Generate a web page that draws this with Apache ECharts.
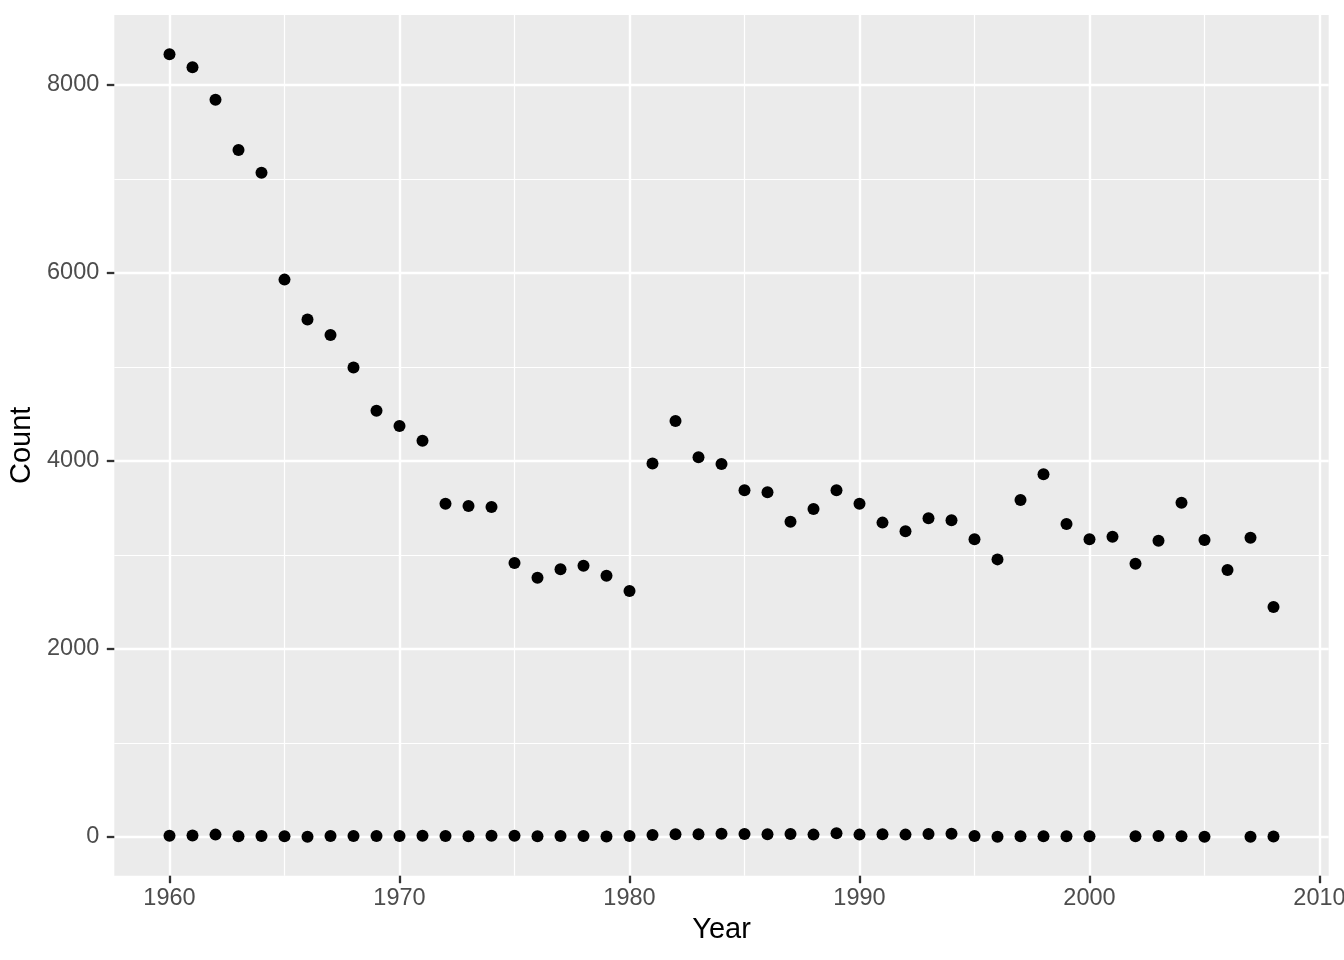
<!DOCTYPE html>
<html>
<head>
<meta charset="utf-8">
<script src="https://cdn.jsdelivr.net/npm/echarts@6/dist/echarts.min.js"></script>
<style>
  html, body { margin: 0; padding: 0; background: #ffffff; }
  #chart { width: 1344px; height: 960px; }
</style>
</head>
<body>
<div id="chart"></div>
<script>
const years = [1960,1961,1962,1963,1964,1965,1966,1967,1968,1969,
               1970,1971,1972,1973,1974,1975,1976,1977,1978,1979,
               1980,1981,1982,1983,1984,1985,1986,1987,1988,1989,
               1990,1991,1992,1993,1994,1995,1996,1997,1998,1999,
               2000,2001,2002,2003,2004,2005,2006,2007,2008];

const countsHigh = [8327,8189,7843,7307,7067,5929,5504,5341,4994,4533,
                    4373,4214,3546,3521,3510,2915,2758,2848,2886,2780,
                    2617,3972,4426,4039,3968,3688,3667,3354,3489,3688,
                    3545,3344,3252,3390,3369,3166,2953,3585,3858,3330,
                    3166,3194,2907,3151,3556,3159,2840,3184,2447];

const countsLow = [12,15,25,8,10,8,3,10,10,10,
                   11,14,11,7,14,14,7,11,11,4,
                   11,21,28,28,35,32,28,32,25,39,
                   25,28,25,32,35,11,3,7,7,7,
                   7,null,7,11,7,3,null,3,4];

const xTicks = [1960,1970,1980,1990,2000,2010];
const yTicks = [0,2000,4000,6000,8000];

const FONT = '"Liberation Sans", Arial, Helvetica, sans-serif';

const highData = years.map((y, i) => [y, countsHigh[i]]);
const lowData = years.map((y, i) => [y, countsLow[i]]).filter(d => d[1] !== null);

const chart = echarts.init(document.getElementById('chart'), null, { renderer: 'canvas' });

const tickStyle = { color: '#333333', width: 2.3 };

chart.setOption({
  backgroundColor: '#ffffff',
  animation: false,
  grid: {
    left: 114.3, right: 15.3, top: 15, bottom: 84.3,
    containLabel: false,
    outerBoundsMode: 'none',
    show: true, backgroundColor: '#EBEBEB', borderWidth: 0
  },
  xAxis: {
    type: 'value',
    min: 1957.6, max: 2010.4,
    minInterval: 10, maxInterval: 10,
    name: 'Year',
    nameLocation: 'middle',
    nameGap: 40,
    nameTextStyle: { fontFamily: FONT, fontSize: 29, color: '#000000' },
    axisLine: { show: false, onZero: false },
    axisTick: { show: true, length: 7.5, lineStyle: tickStyle, customValues: xTicks },
    axisLabel: {
      fontFamily: FONT, fontSize: 23.5, color: '#4D4D4D', margin: 11,
      customValues: xTicks,
      formatter: v => String(v)
    },
    splitLine: { show: true, lineStyle: { color: '#ffffff', width: 2.4 } },
    minorTick: { show: false, splitNumber: 2 },
    minorSplitLine: { show: true, lineStyle: { color: '#ffffff', width: 1.2 } }
  },
  yAxis: {
    type: 'value',
    min: -412, max: 8744,
    minInterval: 2000, maxInterval: 2000,
    name: 'Count',
    nameLocation: 'middle',
    nameGap: 74,
    nameRotate: 90,
    nameTextStyle: { fontFamily: FONT, fontSize: 29, color: '#000000' },
    axisLine: { show: false, onZero: false },
    axisTick: { show: true, length: 7.5, lineStyle: tickStyle, customValues: yTicks },
    axisLabel: {
      fontFamily: FONT, fontSize: 23.5, color: '#4D4D4D', margin: 15,
      customValues: yTicks,
      formatter: v => String(v)
    },
    splitLine: { show: true, lineStyle: { color: '#ffffff', width: 2.4 } },
    minorTick: { show: false, splitNumber: 2 },
    minorSplitLine: { show: true, lineStyle: { color: '#ffffff', width: 1.2 } }
  },
  series: [
    {
      type: 'scatter', data: highData, symbol: 'circle', symbolSize: 12,
      itemStyle: { color: '#000000', opacity: 1 }, silent: true
    },
    {
      type: 'scatter', data: lowData, symbol: 'circle', symbolSize: 12,
      itemStyle: { color: '#000000', opacity: 1 }, silent: true
    }
  ]
});
</script>
</body>
</html>
